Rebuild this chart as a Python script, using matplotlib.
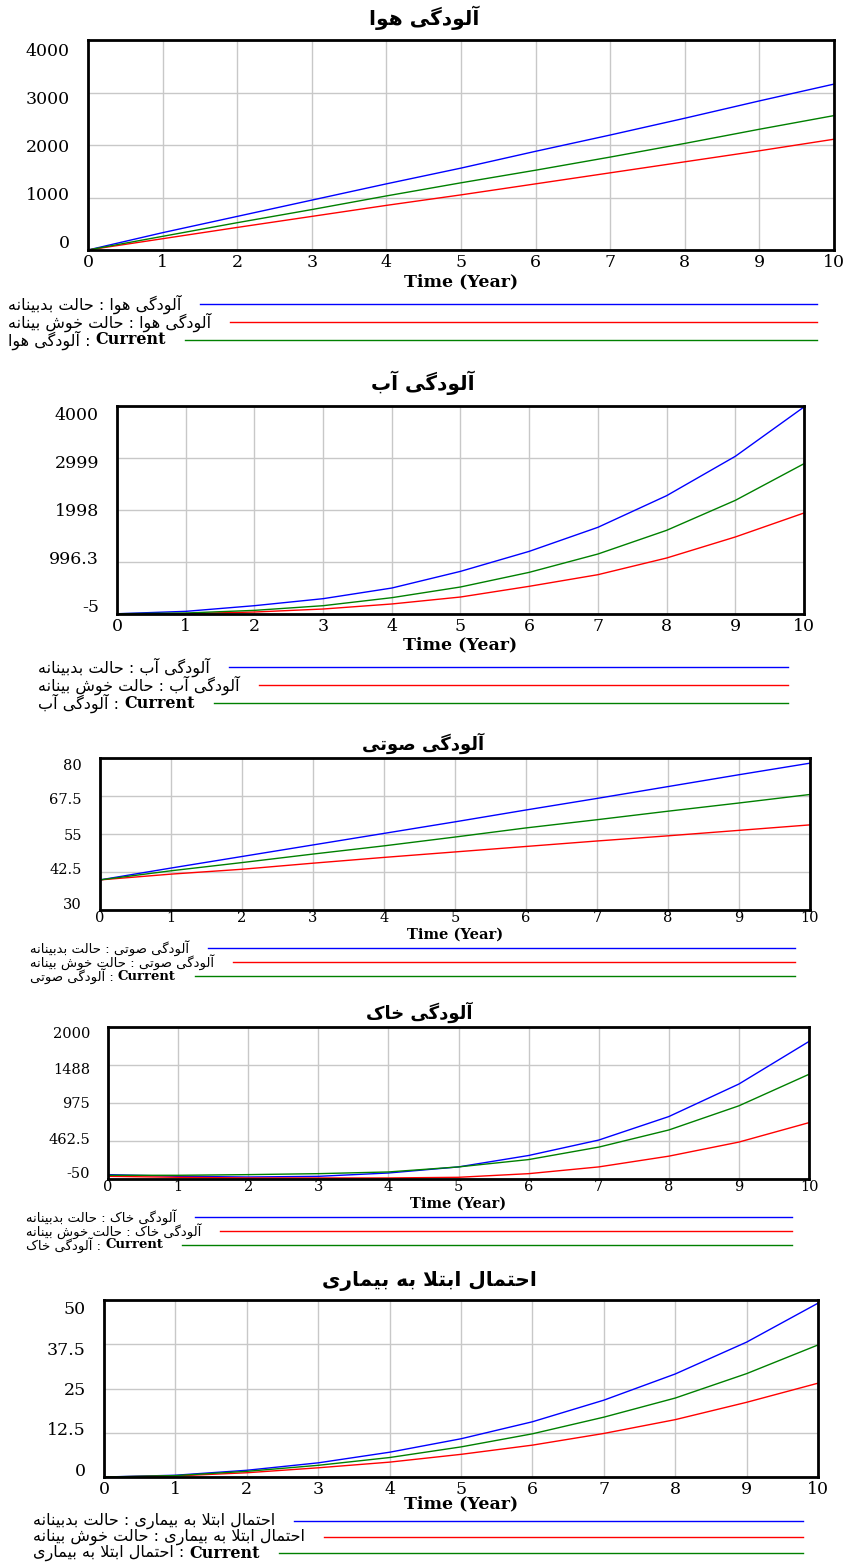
import matplotlib
matplotlib.use("Agg")
import matplotlib.pyplot as plt
from matplotlib.transforms import offset_copy

W, H = 845, 1563

# ---------- data ----------
years = [0, 1, 2, 3, 4, 5, 6, 7, 8, 9, 10]

air_pess = [0, 330, 640, 950, 1260, 1560, 1880, 2190, 2510, 2840, 3160]
air_opt = [0, 215, 430, 640, 850, 1050, 1260, 1470, 1680, 1890, 2110]
air_cur = [0, 260, 520, 770, 1030, 1280, 1520, 1770, 2030, 2300, 2560]

water_pess = [0, 46, 155, 290, 495, 816, 1201, 1664, 2273, 3031, 3981]
water_opt = [0, 2, 33, 91, 188, 322, 528, 752, 1073, 1478, 1940]
water_cur = [0, 14, 65, 155, 309, 515, 797, 1150, 1606, 2183, 2889]

noise_pess = [39.9, 43.8, 47.6, 51.4, 55.2, 59.0, 62.9, 66.7, 70.6, 74.5, 78.3]
noise_opt = [39.9, 41.8, 43.4, 45.4, 47.3, 49.1, 50.9, 52.7, 54.4, 56.2, 58.0]
noise_cur = [39.9, 42.9, 45.6, 48.4, 51.1, 54.0, 57.0, 59.7, 62.5, 65.2, 68.0]

soil_pess = [9, -14, -23, -14, 31, 113, 267, 475, 792, 1231, 1805]
soil_opt = [-14, -27, -36, -36, -36, -27, 22, 113, 258, 448, 710]
soil_cur = [0, 0, 9, 22, 45, 113, 212, 380, 611, 937, 1362]

dis_pess = [0, 0.5, 1.9, 4.0, 7.0, 10.8, 15.6, 21.7, 29.1, 38.1, 49.1]
dis_opt = [0, 0.3, 1.2, 2.6, 4.2, 6.4, 9.0, 12.3, 16.2, 21.1, 26.5]
dis_cur = [0, 0.4, 1.6, 3.3, 5.5, 8.5, 12.2, 16.9, 22.3, 29.2, 37.3]

titles = ["آلودگی هوا", "آلودگی آب", "آلودگی صوتی", "آلودگی خاک", "احتمال ابتلا به بیماری"]
PESS = "حالت بدبینانه"
OPT = "حالت خوش بینانه"
CUR = "Current"

yticks = [
    [0, 1000, 2000, 3000, 4000],
    [-5, 996.25, 1997.5, 2998.75, 4000],
    [30, 42.5, 55, 67.5, 80],
    [-50, 462.5, 975, 1487.5, 2000],
    [0, 12.5, 25, 37.5, 50],
]
ytick_labels = [
    ["0", "1000", "2000", "3000", "4000"],
    ["-5", "996.3", "1998", "2999", "4000"],
    ["30", "42.5", "55", "67.5", "80"],
    ["-50", "462.5", "975", "1488", "2000"],
    ["0", "12.5", "25", "37.5", "50"],
]
series = [
    (air_pess, air_opt, air_cur),
    (water_pess, water_opt, water_cur),
    (noise_pess, noise_opt, noise_cur),
    (soil_pess, soil_opt, soil_cur),
    (dis_pess, dis_opt, dis_cur),
]

BLUE, RED, GREEN = "#0000ff", "#ff0000", "#008000"
GRID = "#c8c8c8"
NUM = ["DejaVu Serif", "DejaVu Sans"]
ARAB = ["DejaVu Sans"]

# ---------- layout (pixels) ----------
panels = [
    dict(box=(88, 834, 40, 250), title=(424, 18), xlab=282, rows=(304, 322, 340), tl=8, le=817, inset=9, big=True),
    dict(box=(117, 804, 406, 614), title=(423, 383), xlab=645, rows=(667, 685, 703), tl=38, le=788, inset=8, big=True),
    dict(box=(100, 810, 758, 910), title=(423, 743), xlab=935, rows=(948, 962, 976), tl=30, le=795, inset=6, big=False),
    dict(box=(108, 809, 1027, 1179), title=(419, 1012), xlab=1204, rows=(1217, 1231, 1245), tl=26, le=792, inset=6, big=False),
    dict(box=(104, 818, 1300, 1477), title=(429, 1281), xlab=1504, rows=(1521, 1537, 1553), tl=33, le=803, inset=8, big=True),
]

# ---------- minimal Persian shaping (matplotlib has no bidi / joining) ----------
FORMS = {  # isolated, final, initial, medial
    "ا": ("\uFE8D", "\uFE8E"), "آ": ("\uFE81", "\uFE82"), "د": ("\uFEA9", "\uFEAA"),
    "ر": ("\uFEAD", "\uFEAE"), "و": ("\uFEED", "\uFEEE"),
    "ب": ("\uFE8F", "\uFE90", "\uFE91", "\uFE92"), "ت": ("\uFE95", "\uFE96", "\uFE97", "\uFE98"),
    "ح": ("\uFEA1", "\uFEA2", "\uFEA3", "\uFEA4"), "خ": ("\uFEA5", "\uFEA6", "\uFEA7", "\uFEA8"),
    "ش": ("\uFEB5", "\uFEB6", "\uFEB7", "\uFEB8"), "ص": ("\uFEB9", "\uFEBA", "\uFEBB", "\uFEBC"),
    "ل": ("\uFEDD", "\uFEDE", "\uFEDF", "\uFEE0"), "م": ("\uFEE1", "\uFEE2", "\uFEE3", "\uFEE4"),
    "ن": ("\uFEE5", "\uFEE6", "\uFEE7", "\uFEE8"), "ه": ("\uFEE9", "\uFEEA", "\uFEEB", "\uFEEC"),
    "ی": ("\uFBFC", "\uFBFD", "\uFBFE", "\uFBFF"), "ک": ("\uFB8E", "\uFB8F", "\uFB90", "\uFB91"),
    "گ": ("\uFB92", "\uFB93", "\uFB94", "\uFB95"),
}
LAM_ALEF = {"ا": ("\uFEFB", "\uFEFC"), "آ": ("\uFEF5", "\uFEF6")}


def shape(text):
    out, prev_joins, i = [], False, 0
    while i < len(text):
        c = text[i]
        nxt = text[i + 1] if i + 1 < len(text) else ""
        if c == "ل" and nxt in LAM_ALEF:
            out.append(LAM_ALEF[nxt][1 if prev_joins else 0])
            prev_joins = False
            i += 2
            continue
        if c in FORMS:
            f = FORMS[c]
            dual = len(f) == 4
            nxt_joins = dual and nxt in FORMS
            if prev_joins and nxt_joins:
                g = f[3]
            elif prev_joins:
                g = f[1]
            elif nxt_joins:
                g = f[2]
            else:
                g = f[0]
            out.append(g)
            prev_joins = dual
        else:
            out.append(c)
            prev_joins = False
        i += 1
    return "".join(out)


def rtl(text):
    return shape(text)[::-1]


fig = plt.figure(figsize=(W / 100, H / 100), dpi=100)
fig.patch.set_facecolor("white")

legend_items = []
for p, title, (pess, opt, cur), ticks, tlabels in zip(panels, titles, series, yticks, ytick_labels):
    l, r, t, b = p["box"]
    ax = fig.add_axes([l / W, 1 - b / H, (r - l) / W, (b - t) / H])
    big = p["big"]
    fs_num = 12.5 if big else 10.5
    fs_title = 14.5 if big else 13
    fs_leg = 11.5 if big else 9.5
    fs_cur = 11.5 if big else 9.5

    ax.plot(years, pess, color=BLUE, lw=1.0)
    ax.plot(years, opt, color=RED, lw=1.0)
    ax.plot(years, cur, color=GREEN, lw=1.0)

    ax.set_xlim(0, 10)
    ax.set_ylim(ticks[0], ticks[-1])
    ax.set_xticks(years)
    ax.set_yticks(ticks, tlabels)
    ax.grid(True, color=GRID, lw=1.0)
    ax.set_axisbelow(True)
    for s in ax.spines.values():
        s.set_linewidth(2.0)
    ax.tick_params(length=0, labelsize=fs_num)
    ax.tick_params(axis="x", pad=3 if big else 1)
    ax.tick_params(axis="y", pad=13)
    for lab in ax.get_xticklabels() + ax.get_yticklabels():
        lab.set_family(NUM)
    # Vensim spreads the y labels evenly inside the box
    for k, lab in enumerate(ax.get_yticklabels()):
        dy = p["inset"] * (1 - k / 2)
        lab.set_transform(offset_copy(lab.get_transform(), fig=fig, y=dy, units="dots"))

    fig.text(p["title"][0] / W, 1 - p["title"][1] / H, rtl(title), ha="center", va="center",
             fontsize=fs_title, fontweight="bold", family=ARAB)
    fig.text(((l + r) / 2) / W, 1 - p["xlab"] / H, "Time (Year)", ha="center", va="center",
             fontsize=fs_num, fontweight="bold", family=NUM)

    rows = p["rows"]
    t1 = fig.text(p["tl"] / W, 1 - rows[0] / H, rtl(f"{title} : {PESS}"), ha="left", va="center",
                  fontsize=fs_leg, family=ARAB)
    t2 = fig.text(p["tl"] / W, 1 - rows[1] / H, rtl(f"{title} : {OPT}"), ha="left", va="center",
                  fontsize=fs_leg, family=ARAB)
    t3 = fig.text(p["tl"] / W, 1 - rows[2] / H, rtl(title) + " : ", ha="left", va="center",
                  fontsize=fs_leg, family=ARAB)
    legend_items.append((p, [t1, t2, t3], fs_cur))

fig.canvas.draw()
renderer = fig.canvas.get_renderer()
for p, (t1, t2, t3), fs_cur in legend_items:
    rows = p["rows"]
    x3 = t3.get_window_extent(renderer).x1
    t4 = fig.text(x3 / W, 1 - rows[2] / H, CUR, ha="left", va="center",
                  fontsize=fs_cur, fontweight="bold", family=NUM)
    fig.canvas.draw()
    ends = [t1.get_window_extent(renderer).x1, t2.get_window_extent(renderer).x1,
            t4.get_window_extent(renderer).x1]
    for y, x0, c in zip(rows, ends, [BLUE, RED, GREEN]):
        fig.add_artist(plt.Line2D([(x0 + 19) / W, p["le"] / W], [1 - y / H, 1 - y / H],
                                  transform=fig.transFigure, color=c, lw=1.0))

fig.savefig("out.png", dpi=100, facecolor="white")
